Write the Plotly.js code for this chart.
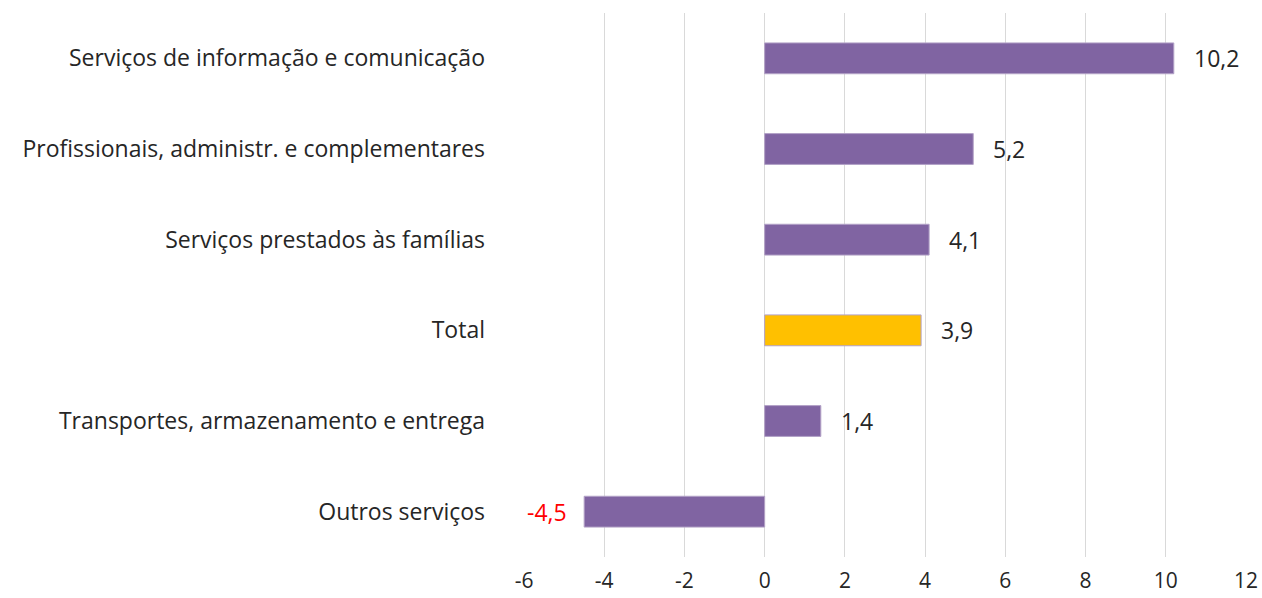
<!DOCTYPE html>
<html>
<head>
<meta charset="utf-8">
<script src="https://cdn.plot.ly/plotly-3.0.1.min.js"></script>
<style>
  html, body { margin: 0; padding: 0; background: #fff; }
  #chart { width: 1262px; height: 598px; }
</style>
</head>
<body>
<div id="chart"></div>
<script>
// categories from bottom to top, as Plotly draws them
var categories = [
  'Outros serviços',
  'Transportes, armazenamento e entrega',
  'Total',
  'Serviços prestados às famílias',
  'Profissionais, administr. e complementares',
  'Serviços de informação e comunicação'
];
var values = [-4.5, 1.4, 3.9, 4.1, 5.2, 10.2];
var xTicks = [-6, -4, -2, 0, 2, 4, 6, 8, 10, 12];

var purple = '#8064A2';
var gold = '#FFC000';
var fontFam = '"Open Sans", "Segoe UI", sans-serif';
var fs = 23;

var barColors = categories.map(function (c) { return c === 'Total' ? gold : purple; });

var trace = {
  type: 'bar',
  orientation: 'h',
  y: categories,
  x: values,
  marker: { color: barColors, line: { color: '#B3A2C7', width: 1 } },
  hoverinfo: 'x+y'
};

// value labels next to each bar
var annotations = values.map(function (v, i) {
  var txt = v.toFixed(1).replace('.', ',');
  return {
    x: v, y: categories[i], xref: 'x', yref: 'y',
    text: txt, showarrow: false,
    xanchor: v < 0 ? 'right' : 'left',
    xshift: v < 0 ? -15 : 18,
    font: { family: fontFam, size: fs, color: v < 0 ? '#FF0000' : '#262626' }
  };
});

var layout = {
  width: 1262,
  height: 598,
  margin: { l: 524, r: 16, t: 13, b: 41 },
  paper_bgcolor: '#fff',
  plot_bgcolor: '#fff',
  showlegend: false,
  bargap: 0.66,
  font: { family: fontFam, size: fs, color: '#262626' },
  xaxis: {
    range: [-6, 12],
    tickvals: xTicks,
    ticktext: xTicks.map(String),
    tickfont: { size: 21 },
    showgrid: true,
    gridcolor: '#D9D9D9',
    gridwidth: 1,
    zeroline: false,
    showline: false,
    ticks: '',
    ticklabelstandoff: 9,
    fixedrange: true
  },
  yaxis: {
    type: 'category',
    showgrid: false,
    zeroline: false,
    showline: false,
    ticks: '',
    ticklabelstandoff: 38,
    fixedrange: true
  },
  annotations: annotations
};

Plotly.newPlot('chart', [trace], layout, { displayModeBar: false, staticPlot: true });
</script>
</body>
</html>
